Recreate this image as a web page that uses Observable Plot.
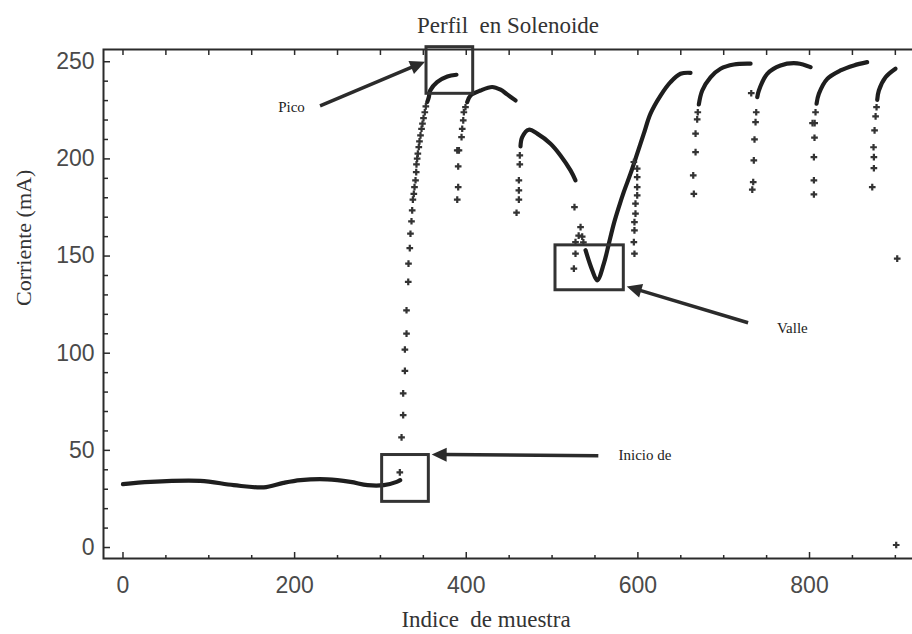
<!DOCTYPE html>
<html>
<head>
<meta charset="utf-8">
<script src="https://cdn.jsdelivr.net/npm/d3@7"></script>
<script src="https://cdn.jsdelivr.net/npm/@observablehq/plot@0.6"></script>
<style>
  html, body { margin: 0; padding: 0; background: #fff; width: 912px; height: 634px; overflow: hidden; }
</style>
</head>
<body>
<div id="chart"></div>
<script>
// ---------- data ----------
// dense traces (drawn as thick lines)
const baselineIdx = [0, 32, 90, 129, 164, 187, 207, 238, 265, 285, 304, 319, 323];
const baselineVal = [32.6, 33.8, 34.3, 32.1, 31.0, 33.3, 34.7, 35.1, 33.8, 32.1, 32.1, 33.8, 34.7];

const seg1Idx = [354.5, 356.4, 358, 366, 378, 388.6];
const seg1Val = [229.2, 231.8, 235.2, 239.5, 242.4, 243.3];

const seg2Idx = [401.1, 405, 416.6, 430.2, 440, 447.7, 457.4];
const seg2Val = [229.2, 232.6, 235.2, 237.0, 235.6, 233.2, 230.1];

const seg3Idx = [463.2, 465.2, 472.9, 482.7, 498.2, 509.8, 521.5, 527.3];
const seg3Val = [206.4, 211.2, 215.0, 213.0, 207.8, 201.8, 194.1, 189.0];

const seg4Idx = [539, 546.8, 552.6, 560.3, 566.2, 572, 577.8, 583.6, 591.4, 599.2, 606.9, 614.7, 626.4, 638, 649.7, 661.3];
const seg4Val = [153.0, 142.7, 137.5, 146.1, 156.4, 166.7, 175.2, 183.0, 192.4, 202.7, 213.0, 223.3, 232.6, 239.5, 243.8, 244.3];

const seg5Idx = [671, 675, 684.6, 696.3, 711.8, 731.3];
const seg5Val = [228.0, 235.2, 242.0, 246.4, 248.6, 249.0];

const seg6Idx = [739.1, 741, 750.7, 766.2, 785.7, 801.2];
const seg6Val = [231.8, 235.2, 243.8, 248.1, 249.2, 247.2];

const seg7Idx = [808.2, 810.9, 820.7, 836.1, 851.7, 867.2];
const seg7Val = [228.4, 233.5, 241.2, 245.5, 248.1, 249.8];

const seg8Idx = [878.9, 880.8, 888.6, 900.2];
const seg8Val = [230.4, 235.2, 242.0, 246.4];

// sparse samples (drawn as markers)
const dotIdx = [
  322.6, 324.6, 326.5, 326.5, 328.5, 328.5, 330.4, 330.4, 332.4, 332.7, 334.2, 335, 336.2, 337, 337.8, 338.9, 339.7, 340.9, 341.7, 342, 342.8, 343.6, 344.7, 345.5, 346.7, 347.9, 349, 350.2, 351.7, 352.9,
  389.5, 390.6, 390.6, 389.5, 391.5, 394.5, 395.3, 396.5, 397.2, 399.1,
  458.6, 461.3, 461.3, 461.3, 462.4, 462.4,
  526.1, 525.4, 527.3, 527.3, 531, 533.2, 535.1, 536.5,
  596, 595.3, 596, 596, 597.2, 597.2, 599.2, 599.2, 599.2, 599.2, 595.3,
  665.2, 664.5, 667.2, 667.2, 669.1, 669.8,
  732.1, 733.3, 734.4, 735.1, 735.9, 737.1, 737.9,
  805.1, 805.1, 805.1, 805.8, 803.5, 806, 807,
  873.1, 875, 875, 874.6, 875.8, 877, 878.1,
  902.2, 901
];
const dotVal = [
  38.7, 56.7, 68.1, 79.3, 90.9, 101.9, 110.1, 122.1, 136.7, 146.1, 154.1, 161.5, 167.9, 173.5, 179.0, 182.0, 185.5, 189.0, 193.2, 197.2, 200.1, 202.7, 206.1, 209.0, 212.1, 215.5, 218.1, 221.0, 224.0, 227.0,
  179.0, 185.5, 196.1, 204.4, 204.4, 211.2, 215.5, 219.8, 224.0, 226.6,
  172.3, 179.0, 183.8, 189.0, 197.2, 201.8,
  175.2, 143.5, 151.2, 157.2, 160.5, 164.9, 160.0, 157.0,
  151.2, 157.2, 163.2, 167.5, 171.8, 177.0, 181.2, 185.5, 190.6, 195.0, 198.4,
  182.0, 191.5, 203.5, 213.0, 220.3, 224.0,
  233.8, 184.2, 188.1, 199.2, 210.0, 218.9, 224.0,
  181.7, 189.0, 200.9, 210.9, 218.4, 218.4, 224.0,
  185.5, 195.2, 200.9, 206.0, 214.7, 221.9, 226.6,
  148.7, 1.3
];

// axis ticks
const xMajorTicks = [0, 200, 400, 600, 800];
const xMinorTicks = [50, 100, 150, 250, 300, 350, 450, 500, 550, 650, 700, 750, 850, 900];
const yMajorTicks = [0, 50, 100, 150, 200, 250];
const yMinorTicks = [10, 20, 30, 40, 60, 70, 80, 90, 110, 120, 130, 140, 160, 170, 180, 190, 210, 220, 230, 240];

// annotations (data coordinates)
const boxLabels = ["Pico", "Valle", "Inicio de"];
const boxX1 = [353.7, 504.0, 302.0];
const boxX2 = [408.1, 583.6, 356.4];
const boxY1 = [233.5, 132.4, 23.5];
const boxY2 = [257.5, 155.5, 47.6];
const arrowFromIdx = [230.2, 729.0, 554.5];
const arrowFromVal = [227.0, 115.4, 47.0];
const arrowToIdx = [352.6, 587.6, 360.3];
const arrowToVal = [249.8, 134.1, 47.6];
const labelIdx = [196.4, 780.0, 577.4];
const labelVal = [226.5, 112.9, 47.3];

// ---------- build tables ----------
const segs = [
  [baselineIdx, baselineVal], [seg1Idx, seg1Val], [seg2Idx, seg2Val], [seg3Idx, seg3Val],
  [seg4Idx, seg4Val], [seg5Idx, seg5Val], [seg6Idx, seg6Val], [seg7Idx, seg7Val], [seg8Idx, seg8Val]
];
const traces = segs.flatMap(([xs, ys], s) => xs.map((x, i) => ({seg: s, x, y: ys[i]})));
const dots = dotIdx.map((x, i) => ({x, y: dotVal[i]}));
const boxes = boxLabels.map((l, i) => ({l, x1: boxX1[i], x2: boxX2[i], y1: boxY1[i], y2: boxY2[i]}));
const arrows = boxLabels.map((l, i) => ({x1: arrowFromIdx[i], y1: arrowFromVal[i], x2: arrowToIdx[i], y2: arrowToVal[i]}));
const labels = boxLabels.map((l, i) => ({l, x: labelIdx[i], y: labelVal[i]}));

const INK = "#2b2b2b";
const SERIF = "'Liberation Serif', 'Times New Roman', serif";
const W = 912, H = 634, ML = 103, MR = 0, MT = 49, MB = 76;
const FW = W - ML - MR, FH = H - MT - MB;

function arrowMark(index, scales) {
  const g = d3.create("svg:g");
  for (const a of arrows) {
    const x1 = scales.x(a.x1), y1 = scales.y(a.y1), x2 = scales.x(a.x2), y2 = scales.y(a.y2);
    const dx = x2 - x1, dy = y2 - y1, L = Math.hypot(dx, dy);
    const ux = dx / L, uy = dy / L, hl = 15, hw = 7;
    const bx = x2 - ux * hl, by = y2 - uy * hl;
    g.append("line").attr("x1", x1).attr("y1", y1).attr("x2", bx + ux * 2).attr("y2", by + uy * 2)
      .attr("stroke", INK).attr("stroke-width", 3.5);
    g.append("polygon")
      .attr("points", `${x2},${y2} ${bx - uy * hw},${by + ux * hw} ${bx + uy * hw},${by - ux * hw}`)
      .attr("fill", INK);
  }
  return g.node();
}

const chart = Plot.plot({
  width: W, height: H,
  marginLeft: ML, marginRight: MR, marginTop: MT, marginBottom: MB,
  style: {background: "#fff", fontFamily: "'Liberation Sans', Arial, sans-serif"},
  x: {domain: [-22.7, 920]},
  y: {domain: [-5.65, 256.3]},
  marks: [
    Plot.axisX(xMajorTicks, {tickSize: 0, tickPadding: 18, fontSize: 23, fill: "#4a4a4a", label: null}),
    Plot.axisY(yMajorTicks, {tickSize: 0, tickPadding: 9, fontSize: 23, fill: "#4a4a4a", label: null}),
    // inward ticks
    Plot.ruleX(xMajorTicks, {insetTop: FH - 6, stroke: INK, strokeWidth: 1.5}),
    Plot.ruleX(xMinorTicks, {insetTop: FH - 3, stroke: INK, strokeWidth: 1.5}),
    Plot.ruleX(xMajorTicks.concat(xMinorTicks), {insetBottom: FH - 6, stroke: INK, strokeWidth: 1.5}),
    Plot.ruleY(yMajorTicks, {insetRight: FW - 7, stroke: INK, strokeWidth: 1.5}),
    Plot.ruleY(yMinorTicks, {insetRight: FW - 5, stroke: INK, strokeWidth: 1.5}),
    Plot.frame({stroke: INK, strokeWidth: 2, insetRight: -12}),
    // data
    Plot.line(traces, {x: "x", y: "y", z: "seg", stroke: "#1e1e1e", strokeWidth: 4.2, curve: "catmull-rom", strokeLinecap: "round"}),
    Plot.dot(dots, {x: "x", y: "y", symbol: "cross", r: 2.8, fill: "#333", stroke: "none"}),
    // annotations
    Plot.rect(boxes, {x1: "x1", x2: "x2", y1: "y1", y2: "y2", fill: "none", stroke: "#333", strokeWidth: 3}),
    arrowMark,
    Plot.text(labels.slice(0, 2), {x: "x", y: "y", text: "l", textAnchor: "middle", fontFamily: SERIF, fontSize: 15, fill: "#222"}),
    Plot.text(labels.slice(2), {x: "x", y: "y", text: "l", textAnchor: "start", fontFamily: SERIF, fontSize: 15, fill: "#222"}),
    // titles
    Plot.text(["Perfil  en Solenoide"], {frameAnchor: "top", lineAnchor: "middle", dy: -24, fontFamily: SERIF, fontSize: 23, fill: "#333"}),
    Plot.text(["Indice  de muestra"], {frameAnchor: "bottom", lineAnchor: "middle", dx: -22, dy: 61, fontFamily: SERIF, fontSize: 23, fill: "#333"}),
    Plot.text(["Corriente (mA)"], {frameAnchor: "left", lineAnchor: "middle", rotate: -90, dx: -80, dy: 2, fontFamily: SERIF, fontSize: 22, fill: "#333"})
  ]
});
chart.querySelectorAll("text").forEach(t => t.style.whiteSpace = "pre");
document.getElementById("chart").appendChild(chart);
</script>
</body>
</html>
